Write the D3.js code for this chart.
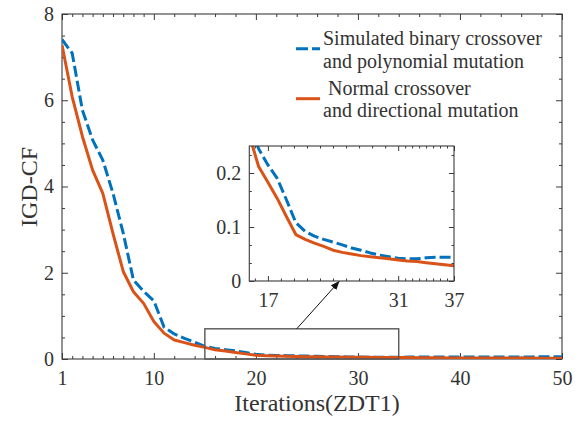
<!DOCTYPE html>
<html>
<head>
<meta charset="utf-8">
<script src="https://cdn.jsdelivr.net/npm/d3@7"></script>
<style>
  html, body { margin: 0; padding: 0; background: #fff; }
  svg { display: block; }
  text { font-family: "Liberation Serif", "Times New Roman", serif; }
</style>
</head>
<body>
<svg id="chart" width="581" height="423"></svg>
<script>
// IGD-CF per iteration on ZDT1 for the two variation operators
const iterations = d3.range(1, 51);
const sbxPolynomial = [
  7.41, 7.09, 5.77, 5.08, 4.61, 3.84, 2.92, 1.83, 1.57, 1.35,
  0.74, 0.58, 0.48, 0.39, 0.29, 0.245, 0.215, 0.19, 0.15, 0.108,
  0.092, 0.083, 0.077, 0.072, 0.067, 0.061, 0.057, 0.052, 0.048, 0.045,
  0.042, 0.041, 0.041, 0.043, 0.044, 0.044, 0.044, 0.045, 0.046, 0.046,
  0.047, 0.047, 0.047, 0.048, 0.048, 0.048, 0.049, 0.050, 0.050, 0.050
];
const normalDirectional = [
  7.28, 6.08, 5.16, 4.38, 3.84, 2.91, 2.03, 1.56, 1.29, 0.87,
  0.60, 0.44, 0.38, 0.32, 0.27, 0.212, 0.183, 0.153, 0.119, 0.086,
  0.077, 0.070, 0.064, 0.057, 0.053, 0.050, 0.047, 0.045, 0.043, 0.041,
  0.039, 0.037, 0.036, 0.034, 0.032, 0.030, 0.028, 0.027, 0.026, 0.025,
  0.024, 0.023, 0.023, 0.022, 0.022, 0.021, 0.021, 0.020, 0.020, 0.020
];
const seriesNames = [
  ["Simulated binary crossover", "and polynomial mutation"],
  [" Normal crossover", "and directional mutation"]
];
const seriesColors = ["#0072BD", "#D95319"];

// main axes ticks
const xMajor = [1, 10, 20, 30, 40, 50];
const xMinor = [2, 3, 4, 5, 6, 7, 8, 9].concat(d3.range(12, 50, 2).filter(v => v % 10 !== 0));
const yMajor = [0, 2, 4, 6, 8];
const yMinor = d3.range(0.5, 8, 0.5).filter(v => v % 2 !== 0);

// zoomed-in panel ticks
const insetXDomain = [15, 37];
const insetYDomain = [0, 0.25];
const insetXMajor = [17, 31, 37];
const insetXMinor = [15.6, 18.4, 19.8, 21.2, 22.6, 24, 25.4, 26.8, 28.2, 29.6,
                     31.75, 32.5, 33.25, 34, 34.75, 35.5, 36.25];
const insetYMajor = [0, 0.1, 0.2];
const insetYMinor = [0.0333, 0.0667, 0.1333, 0.1667, 0.2333];

// highlighted region on the main axes and the arrow to the panel
const zoomBoxX = [15, 34];
const zoomBoxY = [0, 0.7];
const arrowFrom = [24, 0.7];   // main-axes data units
const arrowTo = [24.7, 0];     // panel data units

const svg = d3.select("#chart");
const serif = "Liberation Serif, Times New Roman, serif";
const axisColor = "#3a3a3a";
const textColor = "#333";

const x = d3.scaleLinear().domain([1, 50]).range([62, 562]);
const y = d3.scaleLinear().domain([0, 8]).range([359, 14]);
const xi = d3.scaleLinear().domain(insetXDomain).range([249.3, 454]);
const yi = d3.scaleLinear().domain(insetYDomain).range([281, 146]);

const defs = svg.append("defs");
defs.append("clipPath").attr("id", "clipMain").append("rect")
  .attr("x", x.range()[0]).attr("y", y.range()[1])
  .attr("width", x.range()[1] - x.range()[0]).attr("height", y.range()[0] - y.range()[1]);
defs.append("clipPath").attr("id", "clipInset").append("rect")
  .attr("x", xi.range()[0]).attr("y", yi.range()[1])
  .attr("width", xi.range()[1] - xi.range()[0]).attr("height", yi.range()[0] - yi.range()[1]);
defs.append("marker").attr("id", "arrowHead")
  .attr("viewBox", "0 0 10 10").attr("refX", 10).attr("refY", 5)
  .attr("markerWidth", 9).attr("markerHeight", 9).attr("markerUnits", "userSpaceOnUse")
  .attr("orient", "auto")
  .append("path").attr("d", "M0,1 L10,5 L0,9 Z").attr("fill", "#111");

function styleAxis(g, fontSize) {
  g.attr("font-size", fontSize).attr("font-family", serif);
  g.select(".domain").remove();
  g.selectAll(".tick line").attr("stroke", axisColor).attr("stroke-width", 1);
  g.selectAll(".tick text").attr("fill", textColor).attr("font-family", serif);
}

function drawAxes(root, xs, ys, opt) {
  const [x0, x1] = xs.range();
  const [y0, y1] = ys.range();
  const L = opt.major, m = opt.minor;
  // minor ticks on all four sides
  root.append("g").attr("transform", `translate(0,${y0})`)
    .call(d3.axisBottom(xs).tickValues(opt.xMinor).tickFormat("").tickSizeInner(-m).tickSizeOuter(0))
    .call(g => styleAxis(g, opt.font));
  root.append("g").attr("transform", `translate(0,${y1})`)
    .call(d3.axisTop(xs).tickValues(opt.xMinor).tickFormat("").tickSizeInner(-m).tickSizeOuter(0))
    .call(g => styleAxis(g, opt.font));
  root.append("g").attr("transform", `translate(${x0},0)`)
    .call(d3.axisLeft(ys).tickValues(opt.yMinor).tickFormat("").tickSizeInner(-m).tickSizeOuter(0))
    .call(g => styleAxis(g, opt.font));
  root.append("g").attr("transform", `translate(${x1},0)`)
    .call(d3.axisRight(ys).tickValues(opt.yMinor).tickFormat("").tickSizeInner(-m).tickSizeOuter(0))
    .call(g => styleAxis(g, opt.font));
  // major ticks with labels
  root.append("g").attr("transform", `translate(0,${y0})`)
    .call(d3.axisBottom(xs).tickValues(opt.xMajor).tickFormat(opt.xFmt).tickSizeInner(-L).tickSizeOuter(0).tickPadding(opt.xPad))
    .call(g => styleAxis(g, opt.font));
  root.append("g").attr("transform", `translate(0,${y1})`)
    .call(d3.axisTop(xs).tickValues(opt.xMajor).tickFormat("").tickSizeInner(-L).tickSizeOuter(0))
    .call(g => styleAxis(g, opt.font));
  root.append("g").attr("transform", `translate(${x0},0)`)
    .call(d3.axisLeft(ys).tickValues(opt.yMajor).tickFormat(opt.yFmt).tickSizeInner(-L).tickSizeOuter(0).tickPadding(opt.yPad))
    .call(g => styleAxis(g, opt.font));
  root.append("g").attr("transform", `translate(${x1},0)`)
    .call(d3.axisRight(ys).tickValues(opt.yMajor).tickFormat("").tickSizeInner(-L).tickSizeOuter(0))
    .call(g => styleAxis(g, opt.font));
  // box
  root.append("rect").attr("x", x0).attr("y", y1)
    .attr("width", x1 - x0).attr("height", y0 - y1)
    .attr("fill", "none").attr("stroke", axisColor).attr("stroke-width", 1.1);
}

function drawSeries(root, xs, ys, clipId, width) {
  const line = d3.line().x((d, i) => xs(iterations[i])).y(d => ys(d));
  const g = root.append("g").attr("clip-path", `url(#${clipId})`);
  g.append("path").datum(sbxPolynomial).attr("d", line)
    .attr("fill", "none").attr("stroke", seriesColors[0]).attr("stroke-width", width)
    .attr("stroke-dasharray", "11,4").attr("stroke-linejoin", "round");
  g.append("path").datum(normalDirectional).attr("d", line)
    .attr("fill", "none").attr("stroke", seriesColors[1]).attr("stroke-width", width)
    .attr("stroke-linejoin", "round");
}

// ---- main axes ----
const main = svg.append("g");
drawAxes(main, x, y, {
  xMajor, xMinor, yMajor, yMinor, major: 6, minor: 3, font: 20,
  xFmt: d3.format("d"), yFmt: d3.format("d"), xPad: 12, yPad: 8
});
drawSeries(main, x, y, "clipMain", 3);

main.append("text")
  .attr("x", 317).attr("y", 411).attr("text-anchor", "middle")
  .attr("font-family", serif).attr("font-size", 24).attr("fill", textColor)
  .text("Iterations(ZDT1)");
main.append("text")
  .attr("transform", "translate(37,187) rotate(-90)")
  .attr("text-anchor", "middle").attr("font-family", serif)
  .attr("font-size", 24).attr("fill", textColor)
  .text("IGD-CF");

// highlighted region
main.append("rect")
  .attr("x", x(zoomBoxX[0])).attr("y", y(zoomBoxY[1]))
  .attr("width", x(zoomBoxX[1]) - x(zoomBoxX[0]))
  .attr("height", y(zoomBoxY[0]) - y(zoomBoxY[1]))
  .attr("fill", "none").attr("stroke", "#555").attr("stroke-width", 1.4);

main.append("line")
  .attr("x1", x(arrowFrom[0])).attr("y1", y(arrowFrom[1]))
  .attr("x2", xi(arrowTo[0])).attr("y2", yi(arrowTo[1]))
  .attr("stroke", "#111").attr("stroke-width", 1)
  .attr("marker-end", "url(#arrowHead)");

// ---- zoomed panel ----
const inset = svg.append("g");
inset.append("rect")
  .attr("x", xi.range()[0]).attr("y", yi.range()[1])
  .attr("width", xi.range()[1] - xi.range()[0]).attr("height", yi.range()[0] - yi.range()[1])
  .attr("fill", "#fff");
drawSeries(inset, xi, yi, "clipInset", 3);
drawAxes(inset, xi, yi, {
  xMajor: insetXMajor, xMinor: insetXMinor, yMajor: insetYMajor, yMinor: insetYMinor,
  major: 5, minor: 2.5, font: 20,
  xFmt: d3.format("d"), yFmt: d => d === 0 ? "0" : d3.format(".1f")(d), xPad: 11.5, yPad: 8
});

// ---- legend ----
const legend = svg.append("g");
const legendRows = [
  { sampleY: 48.7, textX: 323, baselines: [45, 68.3] },
  { sampleY: 98.7, textX: 323, baselines: [94.5, 117] }
];
legendRows.forEach((row, k) => {
  legend.append("line")
    .attr("x1", 296).attr("x2", 320).attr("y1", row.sampleY).attr("y2", row.sampleY)
    .attr("stroke", seriesColors[k]).attr("stroke-width", 3)
    .attr("stroke-dasharray", k === 0 ? "12,4" : null);
  seriesNames[k].forEach((t, j) => {
    legend.append("text")
      .attr("x", row.textX).attr("y", row.baselines[j])
      .attr("font-family", serif).attr("font-size", 20).attr("fill", textColor)
      .style("white-space", "pre")
      .text(t);
  });
});
</script>
</body>
</html>
